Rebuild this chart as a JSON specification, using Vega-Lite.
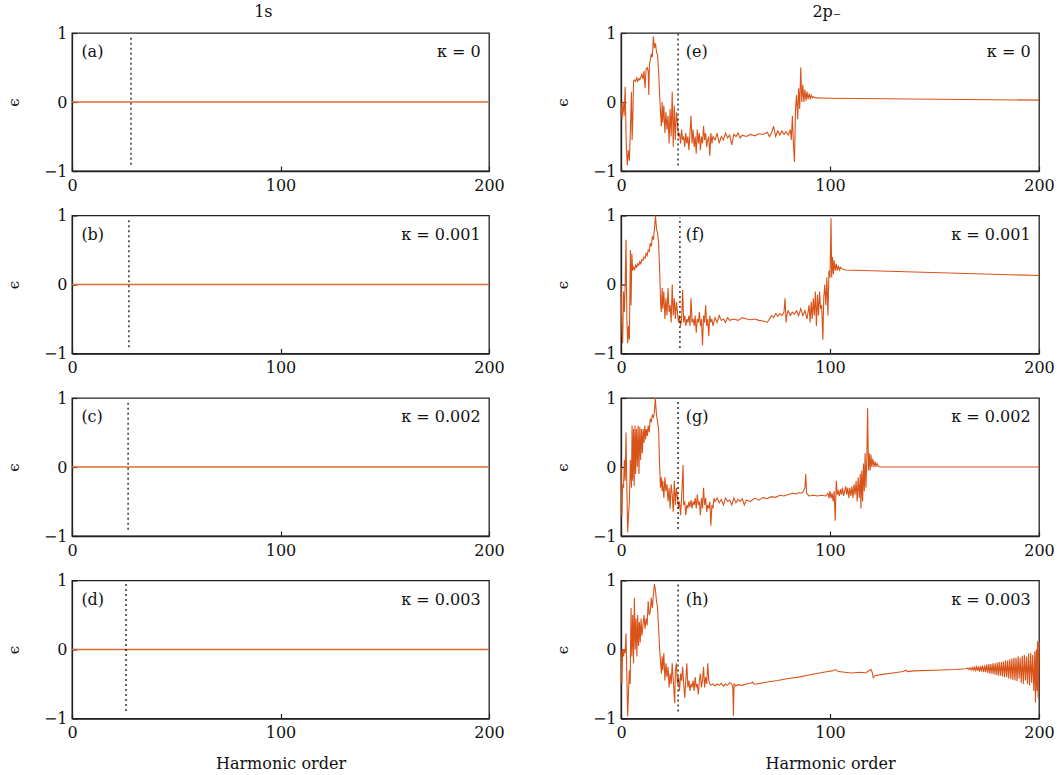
{
"$schema": "https://vega.github.io/schema/vega-lite/v6.json",
"padding": {"left": 5, "top": 4, "right": 2, "bottom": 2},
"background": "white",
"config": {
  "font": "DejaVu Serif",
  "view": {"stroke": "#222", "strokeWidth": 1.3},
  "axis": {"grid": false, "domainColor": "#222", "domainWidth": 1.3, "tickColor": "#222", "tickWidth": 1.2, "tickSize": -5, "labelFont": "DejaVu Serif", "labelFontSize": 16, "labelColor": "#111", "titleFont": "DejaVu Serif", "titleFontWeight": "normal", "titleColor": "#111", "tickCount": 2, "labelFlush": false},
  "axisX": {"labelPadding": 11, "titleFontSize": 16, "titlePadding": 15, "labelAngle": 0},
  "axisY": {"labelPadding": 10, "titleFontSize": 15, "titlePadding": 22, "labelAngle": 0},
  "title": {"font": "DejaVu Serif", "fontSize": 16, "fontWeight": "normal", "color": "#111"}
},
"datasets": {
  "flat": [{"x": 0, "y": 0}, {"x": 200, "y": 0}],
  "ann": [
    {"p": "a", "dx": 28.3, "y1": -0.91, "y2": 0.97, "lab": "(a)", "k": "κ = 0", "lx": 4.5, "kx": 196, "ly": 0.72},
    {"p": "b", "dx": 27.3, "y1": -0.91, "y2": 0.97, "lab": "(b)", "k": "κ = 0.001", "lx": 4.5, "kx": 196, "ly": 0.72},
    {"p": "c", "dx": 26.9, "y1": -0.91, "y2": 0.97, "lab": "(c)", "k": "κ = 0.002", "lx": 4.5, "kx": 196, "ly": 0.72},
    {"p": "d", "dx": 25.9, "y1": -0.89, "y2": 0.95, "lab": "(d)", "k": "κ = 0.003", "lx": 4.5, "kx": 196, "ly": 0.72},
    {"p": "e", "dx": 27.3, "y1": -0.92, "y2": 0.99, "lab": "(e)", "k": "κ = 0", "lx": 31, "kx": 196, "ly": 0.72},
    {"p": "f", "dx": 28.2, "y1": -0.92, "y2": 0.97, "lab": "(f)", "k": "κ = 0.001", "lx": 31, "kx": 196, "ly": 0.72},
    {"p": "g", "dx": 27.3, "y1": -0.9, "y2": 0.97, "lab": "(g)", "k": "κ = 0.002", "lx": 31, "kx": 196, "ly": 0.72},
    {"p": "h", "dx": 27.3, "y1": -0.9, "y2": 0.97, "lab": "(h)", "k": "κ = 0.003", "lx": 31, "kx": 196, "ly": 0.72}
  ],
  "e": [
    {"x":0,"y":0.0},{"x":0.5,"y":-0.25},{"x":1,"y":0.0},{"x":1.5,"y":-0.2},{"x":2,"y":0.22},{"x":2.5,"y":-0.6},{"x":3,"y":-0.92},{"x":3.5,"y":-0.7},{"x":4,"y":-0.85},{"x":4.5,"y":-0.4},{"x":5,"y":0.15},{"x":5.3,"y":-0.55},{"x":5.6,"y":-0.3},{"x":6,"y":0.3},{"x":6.5,"y":0.32},{"x":7,"y":0.3},{"x":7.5,"y":0.35},{"x":8,"y":0.3},{"x":8.5,"y":0.34},{"x":9,"y":0.32},{"x":9.5,"y":0.36},{"x":10,"y":0.4},{"x":10.5,"y":0.33},{"x":11,"y":0.45},{"x":11.5,"y":0.2},{"x":12,"y":0.48},{"x":12.5,"y":0.5},{"x":13,"y":0.45},{"x":13.3,"y":0.1},{"x":13.6,"y":0.55},{"x":14,"y":0.6},{"x":14.5,"y":0.7},{"x":15,"y":0.65},{"x":15.5,"y":0.95},{"x":16,"y":0.78},{"x":16.5,"y":0.85},{"x":17,"y":0.72},{"x":17.5,"y":0.68},{"x":18,"y":0.45},{"x":18.5,"y":0.1},{"x":19,"y":-0.2},{"x":19.3,"y":-0.35},{"x":19.7,"y":0.0},{"x":20,"y":-0.3},{"x":20.5,"y":-0.05},{"x":21,"y":-0.45},{"x":21.5,"y":-0.15},{"x":22,"y":-0.4},{"x":22.5,"y":-0.2},{"x":23,"y":-0.6},{"x":23.5,"y":-0.1},{"x":24,"y":-0.5},{"x":24.5,"y":0.15},{"x":25,"y":-0.65},{"x":25.5,"y":-0.05},{"x":26,"y":-0.55},{"x":26.5,"y":-0.15},{"x":27,"y":-0.3},{"x":27.5,"y":-0.5},{"x":28,"y":-0.45},{"x":28.5,"y":-0.6},{"x":29,"y":-0.4},{"x":29.5,"y":-0.55},{"x":30,"y":-0.5},{"x":30.5,"y":-0.65},{"x":31,"y":-0.45},{"x":31.5,"y":-0.6},{"x":32,"y":-0.5},{"x":32.5,"y":-0.7},{"x":33,"y":-0.45},{"x":33.5,"y":-0.2},{"x":34,"y":-0.6},{"x":34.5,"y":-0.4},{"x":35,"y":-0.65},{"x":35.5,"y":-0.5},{"x":36,"y":-0.75},{"x":36.5,"y":-0.4},{"x":37,"y":-0.6},{"x":37.5,"y":-0.45},{"x":38,"y":-0.7},{"x":38.5,"y":-0.5},{"x":39,"y":-0.6},{"x":39.5,"y":-0.35},{"x":40,"y":-0.55},{"x":40.5,"y":-0.45},{"x":41,"y":-0.65},{"x":41.5,"y":-0.55},{"x":42,"y":-0.5},{"x":42.5,"y":-0.78},{"x":43,"y":-0.45},{"x":43.5,"y":-0.6},{"x":44,"y":-0.5},{"x":45,"y":-0.55},{"x":46,"y":-0.45},{"x":47,"y":-0.6},{"x":48,"y":-0.5},{"x":49,"y":-0.55},{"x":50,"y":-0.45},{"x":51,"y":-0.52},{"x":52,"y":-0.48},{"x":53,"y":-0.62},{"x":54,"y":-0.47},{"x":55,"y":-0.5},{"x":56,"y":-0.45},{"x":57,"y":-0.52},{"x":58,"y":-0.48},{"x":60,"y":-0.5},{"x":62,"y":-0.47},{"x":64,"y":-0.49},{"x":66,"y":-0.46},{"x":68,"y":-0.47},{"x":70,"y":-0.44},{"x":71,"y":-0.5},{"x":72,"y":-0.45},{"x":73,"y":-0.35},{"x":74,"y":-0.5},{"x":75,"y":-0.42},{"x":76,"y":-0.48},{"x":77,"y":-0.42},{"x":78,"y":-0.47},{"x":79,"y":-0.43},{"x":80,"y":-0.48},{"x":81,"y":-0.4},{"x":81.5,"y":-0.55},{"x":82,"y":-0.2},{"x":82.5,"y":-0.6},{"x":83,"y":-0.87},{"x":83.5,"y":-0.1},{"x":84,"y":0.1},{"x":84.5,"y":-0.25},{"x":85,"y":0.2},{"x":85.5,"y":-0.1},{"x":86,"y":0.5},{"x":86.5,"y":0.0},{"x":87,"y":0.25},{"x":87.5,"y":0.0},{"x":88,"y":0.18},{"x":88.5,"y":0.02},{"x":89,"y":0.15},{"x":89.5,"y":0.04},{"x":90,"y":0.12},{"x":90.5,"y":0.05},{"x":91,"y":0.1},{"x":91.5,"y":0.06},{"x":92,"y":0.08},{"x":93,"y":0.06},{"x":100,"y":0.055},{"x":200,"y":0.027}
  ],
  "f": [
    {"x":0,"y":0.0},{"x":0.4,"y":-0.6},{"x":0.8,"y":-0.85},{"x":1.2,"y":-0.1},{"x":1.6,"y":-0.4},{"x":2,"y":0.0},{"x":2.4,"y":0.65},{"x":2.8,"y":-0.5},{"x":3.2,"y":-0.85},{"x":3.6,"y":-0.6},{"x":4,"y":-0.8},{"x":4.5,"y":0.5},{"x":4.8,"y":-0.3},{"x":5.2,"y":0.45},{"x":5.6,"y":0.2},{"x":6,"y":0.25},{"x":6.5,"y":0.22},{"x":7,"y":0.28},{"x":7.5,"y":0.25},{"x":8,"y":0.3},{"x":8.5,"y":0.28},{"x":9,"y":0.33},{"x":9.5,"y":0.3},{"x":10,"y":0.36},{"x":10.5,"y":0.35},{"x":11,"y":0.4},{"x":11.5,"y":0.38},{"x":12,"y":0.45},{"x":12.5,"y":0.42},{"x":13,"y":0.5},{"x":13.5,"y":0.48},{"x":14,"y":0.6},{"x":14.5,"y":0.55},{"x":15,"y":0.7},{"x":15.5,"y":0.65},{"x":16,"y":0.8},{"x":16.5,"y":1.0},{"x":17,"y":0.8},{"x":17.5,"y":0.75},{"x":18,"y":0.6},{"x":18.5,"y":0.2},{"x":19,"y":-0.3},{"x":19.3,"y":-0.4},{"x":19.7,"y":-0.05},{"x":20,"y":-0.35},{"x":20.5,"y":-0.1},{"x":21,"y":-0.5},{"x":21.5,"y":-0.2},{"x":22,"y":-0.45},{"x":22.5,"y":-0.05},{"x":23,"y":-0.4},{"x":23.5,"y":-0.3},{"x":24,"y":-0.55},{"x":24.5,"y":0.0},{"x":25,"y":-0.45},{"x":25.5,"y":-0.2},{"x":26,"y":-0.5},{"x":26.5,"y":-0.25},{"x":27,"y":-0.4},{"x":27.5,"y":-0.55},{"x":28,"y":-0.45},{"x":28.5,"y":-0.6},{"x":29,"y":-0.5},{"x":29.5,"y":-0.08},{"x":30,"y":-0.55},{"x":30.5,"y":-0.45},{"x":31,"y":-0.6},{"x":31.5,"y":-0.5},{"x":32,"y":-0.55},{"x":32.5,"y":-0.45},{"x":33,"y":-0.6},{"x":33.5,"y":-0.2},{"x":34,"y":-0.55},{"x":34.5,"y":-0.5},{"x":35,"y":-0.6},{"x":35.5,"y":-0.45},{"x":36,"y":-0.7},{"x":36.5,"y":-0.5},{"x":37,"y":-0.55},{"x":37.5,"y":-0.4},{"x":38,"y":-0.6},{"x":38.5,"y":-0.5},{"x":39,"y":-0.88},{"x":39.5,"y":-0.45},{"x":40,"y":-0.55},{"x":40.5,"y":-0.3},{"x":41,"y":-0.6},{"x":41.5,"y":-0.5},{"x":42,"y":-0.75},{"x":42.5,"y":-0.45},{"x":43,"y":-0.55},{"x":43.5,"y":-0.5},{"x":44,"y":-0.6},{"x":45,"y":-0.48},{"x":46,"y":-0.55},{"x":47,"y":-0.45},{"x":48,"y":-0.52},{"x":49,"y":-0.5},{"x":50,"y":-0.55},{"x":51,"y":-0.48},{"x":52,"y":-0.52},{"x":54,"y":-0.5},{"x":56,"y":-0.52},{"x":58,"y":-0.48},{"x":60,"y":-0.5},{"x":62,"y":-0.51},{"x":64,"y":-0.5},{"x":66,"y":-0.52},{"x":68,"y":-0.53},{"x":70,"y":-0.55},{"x":71,"y":-0.5},{"x":72,"y":-0.45},{"x":73,"y":-0.48},{"x":74,"y":-0.42},{"x":75,"y":-0.46},{"x":76,"y":-0.42},{"x":77,"y":-0.45},{"x":78,"y":-0.4},{"x":78.5,"y":-0.2},{"x":79,"y":-0.55},{"x":79.5,"y":-0.42},{"x":80,"y":-0.38},{"x":81,"y":-0.45},{"x":82,"y":-0.4},{"x":83,"y":-0.43},{"x":84,"y":-0.38},{"x":85,"y":-0.45},{"x":86,"y":-0.35},{"x":87,"y":-0.45},{"x":88,"y":-0.38},{"x":89,"y":-0.5},{"x":90,"y":-0.3},{"x":90.5,"y":-0.55},{"x":91,"y":-0.25},{"x":91.5,"y":-0.5},{"x":92,"y":-0.2},{"x":92.5,"y":-0.45},{"x":93,"y":-0.1},{"x":93.5,"y":-0.6},{"x":94,"y":-0.15},{"x":94.5,"y":-0.45},{"x":95,"y":-0.1},{"x":95.5,"y":-0.35},{"x":96,"y":-0.3},{"x":96.6,"y":-0.8},{"x":97,"y":-0.2},{"x":97.5,"y":0.0},{"x":98,"y":-0.3},{"x":98.5,"y":0.1},{"x":99,"y":-0.45},{"x":99.5,"y":0.2},{"x":100,"y":0.1},{"x":100.5,"y":0.96},{"x":100.8,"y":0.1},{"x":101.2,"y":0.4},{"x":101.6,"y":0.15},{"x":102,"y":0.35},{"x":102.5,"y":0.2},{"x":103,"y":0.3},{"x":103.5,"y":0.2},{"x":104,"y":0.27},{"x":104.5,"y":0.21},{"x":105,"y":0.25},{"x":106,"y":0.22},{"x":107.5,"y":0.21},{"x":200,"y":0.13}
  ],
  "g": [
    {"x":0,"y":0.0},{"x":0.4,"y":-0.72},{"x":0.8,"y":-0.25},{"x":1.2,"y":-0.3},{"x":1.6,"y":0.1},{"x":2,"y":-0.2},{"x":2.4,"y":0.5},{"x":2.8,"y":-0.3},{"x":3.2,"y":-0.95},{"x":3.6,"y":-0.7},{"x":4,"y":-0.5},{"x":4.5,"y":0.1},{"x":5,"y":-0.3},{"x":5.3,"y":0.6},{"x":5.6,"y":-0.2},{"x":6,"y":0.55},{"x":6.3,"y":-0.28},{"x":6.7,"y":0.6},{"x":7,"y":-0.1},{"x":7.4,"y":0.55},{"x":7.8,"y":0.0},{"x":8.2,"y":0.6},{"x":8.6,"y":-0.1},{"x":9,"y":0.58},{"x":9.4,"y":0.1},{"x":9.8,"y":0.55},{"x":10.2,"y":0.2},{"x":10.6,"y":0.55},{"x":11,"y":0.35},{"x":11.4,"y":0.6},{"x":11.8,"y":0.4},{"x":12.2,"y":0.55},{"x":12.6,"y":0.45},{"x":13,"y":0.6},{"x":13.5,"y":0.5},{"x":14,"y":0.7},{"x":14.5,"y":0.65},{"x":15,"y":0.75},{"x":15.5,"y":0.72},{"x":16,"y":0.8},{"x":16.4,"y":1.0},{"x":17,"y":0.75},{"x":17.5,"y":0.65},{"x":18,"y":0.55},{"x":18.5,"y":0.0},{"x":18.9,"y":-0.3},{"x":19.3,"y":-0.15},{"x":19.7,"y":-0.35},{"x":20,"y":-0.2},{"x":20.5,"y":-0.45},{"x":21,"y":-0.15},{"x":21.5,"y":-0.35},{"x":22,"y":-0.25},{"x":22.5,"y":-0.5},{"x":23,"y":-0.3},{"x":23.5,"y":-0.6},{"x":24,"y":-0.25},{"x":24.5,"y":-0.4},{"x":25,"y":-0.65},{"x":25.5,"y":-0.2},{"x":26,"y":-0.55},{"x":26.5,"y":-0.3},{"x":27,"y":-0.45},{"x":27.5,"y":-0.6},{"x":28,"y":-0.5},{"x":28.5,"y":-0.7},{"x":29,"y":-0.45},{"x":29.7,"y":0.03},{"x":30,"y":-0.55},{"x":30.5,"y":-0.5},{"x":31,"y":-0.7},{"x":31.5,"y":-0.55},{"x":32,"y":-0.6},{"x":32.5,"y":-0.5},{"x":33,"y":-0.58},{"x":33.5,"y":-0.48},{"x":34,"y":-0.6},{"x":34.5,"y":-0.5},{"x":35,"y":-0.55},{"x":35.5,"y":-0.45},{"x":36,"y":-0.6},{"x":36.5,"y":-0.4},{"x":37,"y":-0.55},{"x":37.5,"y":-0.5},{"x":38,"y":-0.7},{"x":38.5,"y":-0.45},{"x":39,"y":-0.6},{"x":39.5,"y":-0.3},{"x":40,"y":-0.55},{"x":40.5,"y":-0.45},{"x":41,"y":-0.65},{"x":41.5,"y":-0.55},{"x":42,"y":-0.6},{"x":42.5,"y":-0.5},{"x":43,"y":-0.85},{"x":43.5,"y":-0.55},{"x":44,"y":-0.6},{"x":44.5,"y":-0.45},{"x":45,"y":-0.5},{"x":46,"y":-0.45},{"x":47,"y":-0.52},{"x":48,"y":-0.47},{"x":49,"y":-0.55},{"x":50,"y":-0.45},{"x":51,"y":-0.5},{"x":52,"y":-0.48},{"x":53,"y":-0.55},{"x":54,"y":-0.45},{"x":55,"y":-0.52},{"x":56,"y":-0.47},{"x":57,"y":-0.5},{"x":58,"y":-0.46},{"x":59,"y":-0.55},{"x":60,"y":-0.48},{"x":62,"y":-0.5},{"x":64,"y":-0.45},{"x":66,"y":-0.48},{"x":68,"y":-0.44},{"x":70,"y":-0.46},{"x":72,"y":-0.43},{"x":74,"y":-0.44},{"x":76,"y":-0.41},{"x":78,"y":-0.42},{"x":80,"y":-0.4},{"x":82,"y":-0.38},{"x":84,"y":-0.39},{"x":85,"y":-0.37},{"x":86,"y":-0.38},{"x":87,"y":-0.37},{"x":88,"y":-0.3},{"x":88.4,"y":-0.1},{"x":88.8,"y":-0.38},{"x":90,"y":-0.42},{"x":92,"y":-0.41},{"x":94,"y":-0.42},{"x":96,"y":-0.41},{"x":98,"y":-0.42},{"x":99,"y":-0.38},{"x":99.5,"y":-0.45},{"x":100,"y":-0.35},{"x":100.5,"y":-0.45},{"x":101,"y":-0.38},{"x":101.5,"y":-0.5},{"x":102,"y":-0.35},{"x":102.5,"y":-0.78},{"x":103,"y":-0.2},{"x":103.5,"y":-0.4},{"x":104,"y":-0.35},{"x":104.5,"y":-0.42},{"x":105,"y":-0.32},{"x":105.5,"y":-0.4},{"x":106,"y":-0.3},{"x":106.5,"y":-0.42},{"x":107,"y":-0.35},{"x":107.5,"y":-0.28},{"x":108,"y":-0.4},{"x":108.5,"y":-0.3},{"x":109,"y":-0.45},{"x":109.5,"y":-0.3},{"x":110,"y":-0.42},{"x":110.5,"y":-0.28},{"x":111,"y":-0.45},{"x":111.5,"y":-0.25},{"x":112,"y":-0.4},{"x":112.5,"y":-0.2},{"x":113,"y":-0.5},{"x":113.5,"y":-0.15},{"x":114,"y":-0.45},{"x":114.5,"y":-0.1},{"x":114.8,"y":-0.6},{"x":115.2,"y":-0.05},{"x":115.6,"y":-0.5},{"x":116,"y":0.05},{"x":116.4,"y":-0.35},{"x":116.8,"y":0.2},{"x":117.2,"y":-0.3},{"x":117.6,"y":0.1},{"x":118,"y":0.85},{"x":118.4,"y":-0.05},{"x":118.8,"y":0.2},{"x":119.2,"y":-0.05},{"x":119.6,"y":0.18},{"x":120,"y":0.0},{"x":120.5,"y":0.12},{"x":121,"y":0.0},{"x":121.5,"y":0.08},{"x":122,"y":0.01},{"x":122.5,"y":0.05},{"x":123,"y":0.01},{"x":124,"y":0.0},{"x":200,"y":0.0}
  ],
  "h": [
    {"x":0,"y":0.0},{"x":0.4,"y":-0.5},{"x":0.8,"y":0.0},{"x":1.2,"y":-0.1},{"x":1.6,"y":0.0},{"x":2,"y":-0.05},{"x":2.4,"y":0.23},{"x":2.8,"y":-0.4},{"x":3.2,"y":-0.97},{"x":3.6,"y":-0.6},{"x":4,"y":-0.3},{"x":4.4,"y":-0.5},{"x":4.8,"y":0.6},{"x":5.2,"y":-0.1},{"x":5.6,"y":0.5},{"x":6,"y":-0.2},{"x":6.4,"y":0.75},{"x":6.8,"y":0.0},{"x":7.2,"y":0.45},{"x":7.6,"y":-0.1},{"x":8,"y":0.5},{"x":8.4,"y":0.05},{"x":8.8,"y":0.4},{"x":9.2,"y":0.1},{"x":9.6,"y":0.45},{"x":10,"y":0.2},{"x":10.5,"y":0.35},{"x":11,"y":0.5},{"x":11.5,"y":0.3},{"x":12,"y":0.45},{"x":12.5,"y":0.35},{"x":13,"y":0.7},{"x":13.5,"y":0.5},{"x":14,"y":0.55},{"x":14.5,"y":0.75},{"x":15,"y":0.6},{"x":15.5,"y":0.8},{"x":16,"y":0.95},{"x":16.5,"y":0.85},{"x":17,"y":0.7},{"x":17.5,"y":0.6},{"x":18,"y":0.3},{"x":18.5,"y":0.0},{"x":19.3,"y":-0.35},{"x":19.7,"y":-0.1},{"x":20,"y":-0.3},{"x":20.5,"y":-0.05},{"x":21,"y":-0.45},{"x":21.5,"y":-0.2},{"x":22,"y":-0.4},{"x":22.5,"y":-0.25},{"x":23,"y":-0.55},{"x":23.5,"y":-0.35},{"x":24,"y":-0.5},{"x":24.5,"y":-0.2},{"x":25,"y":-0.45},{"x":25.7,"y":-0.78},{"x":26,"y":-0.3},{"x":26.5,"y":-0.2},{"x":27,"y":-0.5},{"x":27.5,"y":-0.4},{"x":28,"y":-0.6},{"x":28.5,"y":-0.35},{"x":29,"y":-0.45},{"x":29.5,"y":-0.25},{"x":30,"y":-0.5},{"x":30.5,"y":-0.7},{"x":31,"y":-0.45},{"x":31.5,"y":-0.2},{"x":32,"y":-0.55},{"x":32.5,"y":-0.45},{"x":33,"y":-0.6},{"x":33.5,"y":-0.5},{"x":34,"y":-0.55},{"x":34.5,"y":-0.45},{"x":35,"y":-0.6},{"x":35.5,"y":-0.4},{"x":36,"y":-0.55},{"x":36.5,"y":-0.5},{"x":37,"y":-0.65},{"x":37.5,"y":-0.45},{"x":38,"y":-0.35},{"x":38.5,"y":-0.55},{"x":39,"y":-0.45},{"x":39.5,"y":-0.25},{"x":40,"y":-0.55},{"x":40.5,"y":-0.4},{"x":41,"y":-0.5},{"x":41.5,"y":-0.2},{"x":42,"y":-0.45},{"x":42.5,"y":-0.5},{"x":43,"y":-0.52},{"x":44,"y":-0.5},{"x":45,"y":-0.53},{"x":46,"y":-0.5},{"x":47,"y":-0.52},{"x":48,"y":-0.49},{"x":49,"y":-0.53},{"x":50,"y":-0.5},{"x":51,"y":-0.52},{"x":52,"y":-0.48},{"x":53,"y":-0.5},{"x":53.5,"y":-0.55},{"x":53.8,"y":-0.96},{"x":54.1,"y":-0.5},{"x":55,"y":-0.53},{"x":56,"y":-0.51},{"x":58,"y":-0.52},{"x":60,"y":-0.5},{"x":62,"y":-0.49},{"x":63,"y":-0.47},{"x":63.5,"y":-0.5},{"x":65,"y":-0.5},{"x":70,"y":-0.47},{"x":75,"y":-0.45},{"x":80,"y":-0.42},{"x":85,"y":-0.4},{"x":90,"y":-0.37},{"x":95,"y":-0.34},{"x":99,"y":-0.32},{"x":101,"y":-0.31},{"x":102.7,"y":-0.29},{"x":104,"y":-0.32},{"x":107,"y":-0.33},{"x":110,"y":-0.34},{"x":115,"y":-0.33},{"x":117,"y":-0.34},{"x":119.6,"y":-0.29},{"x":120.2,"y":-0.33},{"x":120.7,"y":-0.41},{"x":121.5,"y":-0.38},{"x":125,"y":-0.36},{"x":130,"y":-0.34},{"x":135,"y":-0.32},{"x":136.4,"y":-0.3},{"x":137,"y":-0.32},{"x":140,"y":-0.31},{"x":150,"y":-0.3},{"x":160,"y":-0.29},{"x":165,"y":-0.28},{"x":166,"y":-0.27},{"x":166.5,"y":-0.29},{"x":167,"y":-0.265},{"x":167.5,"y":-0.295},{"x":168,"y":-0.26},{"x":168.5,"y":-0.3},{"x":169,"y":-0.255},{"x":169.5,"y":-0.305},{"x":170,"y":-0.25},{"x":170.5,"y":-0.31},{"x":171,"y":-0.245},{"x":171.5,"y":-0.32},{"x":172,"y":-0.24},{"x":172.5,"y":-0.32},{"x":173,"y":-0.235},{"x":173.5,"y":-0.33},{"x":174,"y":-0.23},{"x":174.5,"y":-0.33},{"x":175,"y":-0.22},{"x":175.5,"y":-0.34},{"x":176,"y":-0.21},{"x":176.5,"y":-0.35},{"x":177,"y":-0.21},{"x":177.5,"y":-0.35},{"x":178,"y":-0.2},{"x":178.5,"y":-0.36},{"x":179,"y":-0.2},{"x":179.5,"y":-0.37},{"x":180,"y":-0.19},{"x":180.5,"y":-0.38},{"x":181,"y":-0.18},{"x":181.5,"y":-0.38},{"x":182,"y":-0.18},{"x":182.5,"y":-0.39},{"x":183,"y":-0.17},{"x":183.5,"y":-0.4},{"x":184,"y":-0.16},{"x":184.5,"y":-0.4},{"x":185,"y":-0.16},{"x":185.5,"y":-0.42},{"x":186,"y":-0.14},{"x":186.5,"y":-0.43},{"x":187,"y":-0.13},{"x":187.5,"y":-0.44},{"x":188,"y":-0.12},{"x":188.5,"y":-0.45},{"x":189,"y":-0.12},{"x":189.5,"y":-0.46},{"x":190,"y":-0.1},{"x":190.5,"y":-0.42},{"x":191,"y":-0.12},{"x":191.5,"y":-0.48},{"x":192,"y":-0.09},{"x":192.5,"y":-0.5},{"x":193,"y":-0.08},{"x":193.5,"y":-0.45},{"x":194,"y":-0.1},{"x":194.5,"y":-0.5},{"x":195,"y":-0.06},{"x":195.5,"y":-0.52},{"x":196,"y":-0.05},{"x":196.5,"y":-0.48},{"x":197,"y":-0.08},{"x":197.5,"y":-0.6},{"x":198,"y":-0.03},{"x":198.3,"y":-0.77},{"x":198.7,"y":0.0},{"x":199,"y":-0.6},{"x":199.3,"y":0.12},{"x":199.6,"y":-0.7},{"x":200,"y":0.1}
  ]
},
"hconcat": [
  {
    "title": {"text": "1s", "anchor": "middle", "dx": 8},
    "spacing": 12.5,
    "vconcat": [
      {"width": 417, "height": 138, "layer": [
        {"data": {"name": "flat"}, "mark": {"type": "line", "color": "#E06A35", "strokeWidth": 1.4}, "encoding": {"x": {"field": "x", "type": "quantitative", "scale": {"domain": [0, 200], "nice": false}, "title": null}, "y": {"field": "y", "type": "quantitative", "scale": {"domain": [-1, 1], "nice": false}, "title": "ϵ"}}},
        {"data": {"name": "ann"}, "transform": [{"filter": "datum.p == 'a'"}], "mark": {"type": "rule", "color": "black", "strokeWidth": 1.2, "strokeDash": [2, 3]}, "encoding": {"x": {"field": "dx", "type": "quantitative"}, "y": {"field": "y1", "type": "quantitative"}, "y2": {"field": "y2"}}},
        {"data": {"name": "ann"}, "transform": [{"filter": "datum.p == 'a'"}], "mark": {"type": "text", "align": "left", "baseline": "middle", "fontSize": 16, "color": "#111"}, "encoding": {"x": {"field": "lx", "type": "quantitative"}, "y": {"field": "ly", "type": "quantitative"}, "text": {"field": "lab"}}},
        {"data": {"name": "ann"}, "transform": [{"filter": "datum.p == 'a'"}], "mark": {"type": "text", "align": "right", "baseline": "middle", "fontSize": 16, "color": "#111"}, "encoding": {"x": {"field": "kx", "type": "quantitative"}, "y": {"field": "ly", "type": "quantitative"}, "text": {"field": "k"}}}
      ]},
      {"width": 417, "height": 138, "layer": [
        {"data": {"name": "flat"}, "mark": {"type": "line", "color": "#E06A35", "strokeWidth": 1.4}, "encoding": {"x": {"field": "x", "type": "quantitative", "scale": {"domain": [0, 200], "nice": false}, "title": null}, "y": {"field": "y", "type": "quantitative", "scale": {"domain": [-1, 1], "nice": false}, "title": "ϵ"}}},
        {"data": {"name": "ann"}, "transform": [{"filter": "datum.p == 'b'"}], "mark": {"type": "rule", "color": "black", "strokeWidth": 1.2, "strokeDash": [2, 3]}, "encoding": {"x": {"field": "dx", "type": "quantitative"}, "y": {"field": "y1", "type": "quantitative"}, "y2": {"field": "y2"}}},
        {"data": {"name": "ann"}, "transform": [{"filter": "datum.p == 'b'"}], "mark": {"type": "text", "align": "left", "baseline": "middle", "fontSize": 16, "color": "#111"}, "encoding": {"x": {"field": "lx", "type": "quantitative"}, "y": {"field": "ly", "type": "quantitative"}, "text": {"field": "lab"}}},
        {"data": {"name": "ann"}, "transform": [{"filter": "datum.p == 'b'"}], "mark": {"type": "text", "align": "right", "baseline": "middle", "fontSize": 16, "color": "#111"}, "encoding": {"x": {"field": "kx", "type": "quantitative"}, "y": {"field": "ly", "type": "quantitative"}, "text": {"field": "k"}}}
      ]},
      {"width": 417, "height": 138, "layer": [
        {"data": {"name": "flat"}, "mark": {"type": "line", "color": "#E06A35", "strokeWidth": 1.4}, "encoding": {"x": {"field": "x", "type": "quantitative", "scale": {"domain": [0, 200], "nice": false}, "title": null}, "y": {"field": "y", "type": "quantitative", "scale": {"domain": [-1, 1], "nice": false}, "title": "ϵ"}}},
        {"data": {"name": "ann"}, "transform": [{"filter": "datum.p == 'c'"}], "mark": {"type": "rule", "color": "black", "strokeWidth": 1.2, "strokeDash": [2, 3]}, "encoding": {"x": {"field": "dx", "type": "quantitative"}, "y": {"field": "y1", "type": "quantitative"}, "y2": {"field": "y2"}}},
        {"data": {"name": "ann"}, "transform": [{"filter": "datum.p == 'c'"}], "mark": {"type": "text", "align": "left", "baseline": "middle", "fontSize": 16, "color": "#111"}, "encoding": {"x": {"field": "lx", "type": "quantitative"}, "y": {"field": "ly", "type": "quantitative"}, "text": {"field": "lab"}}},
        {"data": {"name": "ann"}, "transform": [{"filter": "datum.p == 'c'"}], "mark": {"type": "text", "align": "right", "baseline": "middle", "fontSize": 16, "color": "#111"}, "encoding": {"x": {"field": "kx", "type": "quantitative"}, "y": {"field": "ly", "type": "quantitative"}, "text": {"field": "k"}}}
      ]},
      {"width": 417, "height": 138, "layer": [
        {"data": {"name": "flat"}, "mark": {"type": "line", "color": "#E06A35", "strokeWidth": 1.4}, "encoding": {"x": {"field": "x", "type": "quantitative", "scale": {"domain": [0, 200], "nice": false}, "title": "Harmonic order"}, "y": {"field": "y", "type": "quantitative", "scale": {"domain": [-1, 1], "nice": false}, "title": "ϵ"}}},
        {"data": {"name": "ann"}, "transform": [{"filter": "datum.p == 'd'"}], "mark": {"type": "rule", "color": "black", "strokeWidth": 1.2, "strokeDash": [2, 3]}, "encoding": {"x": {"field": "dx", "type": "quantitative"}, "y": {"field": "y1", "type": "quantitative"}, "y2": {"field": "y2"}}},
        {"data": {"name": "ann"}, "transform": [{"filter": "datum.p == 'd'"}], "mark": {"type": "text", "align": "left", "baseline": "middle", "fontSize": 16, "color": "#111"}, "encoding": {"x": {"field": "lx", "type": "quantitative"}, "y": {"field": "ly", "type": "quantitative"}, "text": {"field": "lab"}}},
        {"data": {"name": "ann"}, "transform": [{"filter": "datum.p == 'd'"}], "mark": {"type": "text", "align": "right", "baseline": "middle", "fontSize": 16, "color": "#111"}, "encoding": {"x": {"field": "kx", "type": "quantitative"}, "y": {"field": "ly", "type": "quantitative"}, "text": {"field": "k"}}}
      ]}
    ]
  },
  {
    "title": {"text": "2p₋", "anchor": "middle", "dx": 22},
    "spacing": 12.5,
    "vconcat": [
      {"width": 418, "height": 138, "layer": [
        {"data": {"name": "e"}, "mark": {"type": "line", "color": "#D95319", "strokeWidth": 1.1}, "encoding": {"x": {"field": "x", "type": "quantitative", "scale": {"domain": [0, 200], "nice": false}, "title": null}, "y": {"field": "y", "type": "quantitative", "scale": {"domain": [-1, 1], "nice": false}, "title": "ϵ"}}},
        {"data": {"name": "ann"}, "transform": [{"filter": "datum.p == 'e'"}], "mark": {"type": "rule", "color": "black", "strokeWidth": 1.2, "strokeDash": [2, 3]}, "encoding": {"x": {"field": "dx", "type": "quantitative"}, "y": {"field": "y1", "type": "quantitative"}, "y2": {"field": "y2"}}},
        {"data": {"name": "ann"}, "transform": [{"filter": "datum.p == 'e'"}], "mark": {"type": "text", "align": "left", "baseline": "middle", "fontSize": 16, "color": "#111"}, "encoding": {"x": {"field": "lx", "type": "quantitative"}, "y": {"field": "ly", "type": "quantitative"}, "text": {"field": "lab"}}},
        {"data": {"name": "ann"}, "transform": [{"filter": "datum.p == 'e'"}], "mark": {"type": "text", "align": "right", "baseline": "middle", "fontSize": 16, "color": "#111"}, "encoding": {"x": {"field": "kx", "type": "quantitative"}, "y": {"field": "ly", "type": "quantitative"}, "text": {"field": "k"}}}
      ]},
      {"width": 418, "height": 138, "layer": [
        {"data": {"name": "f"}, "mark": {"type": "line", "color": "#D95319", "strokeWidth": 1.1}, "encoding": {"x": {"field": "x", "type": "quantitative", "scale": {"domain": [0, 200], "nice": false}, "title": null}, "y": {"field": "y", "type": "quantitative", "scale": {"domain": [-1, 1], "nice": false}, "title": "ϵ"}}},
        {"data": {"name": "ann"}, "transform": [{"filter": "datum.p == 'f'"}], "mark": {"type": "rule", "color": "black", "strokeWidth": 1.2, "strokeDash": [2, 3]}, "encoding": {"x": {"field": "dx", "type": "quantitative"}, "y": {"field": "y1", "type": "quantitative"}, "y2": {"field": "y2"}}},
        {"data": {"name": "ann"}, "transform": [{"filter": "datum.p == 'f'"}], "mark": {"type": "text", "align": "left", "baseline": "middle", "fontSize": 16, "color": "#111"}, "encoding": {"x": {"field": "lx", "type": "quantitative"}, "y": {"field": "ly", "type": "quantitative"}, "text": {"field": "lab"}}},
        {"data": {"name": "ann"}, "transform": [{"filter": "datum.p == 'f'"}], "mark": {"type": "text", "align": "right", "baseline": "middle", "fontSize": 16, "color": "#111"}, "encoding": {"x": {"field": "kx", "type": "quantitative"}, "y": {"field": "ly", "type": "quantitative"}, "text": {"field": "k"}}}
      ]},
      {"width": 418, "height": 138, "layer": [
        {"data": {"name": "g"}, "mark": {"type": "line", "color": "#D95319", "strokeWidth": 1.1}, "encoding": {"x": {"field": "x", "type": "quantitative", "scale": {"domain": [0, 200], "nice": false}, "title": null}, "y": {"field": "y", "type": "quantitative", "scale": {"domain": [-1, 1], "nice": false}, "title": "ϵ"}}},
        {"data": {"name": "ann"}, "transform": [{"filter": "datum.p == 'g'"}], "mark": {"type": "rule", "color": "black", "strokeWidth": 1.2, "strokeDash": [2, 3]}, "encoding": {"x": {"field": "dx", "type": "quantitative"}, "y": {"field": "y1", "type": "quantitative"}, "y2": {"field": "y2"}}},
        {"data": {"name": "ann"}, "transform": [{"filter": "datum.p == 'g'"}], "mark": {"type": "text", "align": "left", "baseline": "middle", "fontSize": 16, "color": "#111"}, "encoding": {"x": {"field": "lx", "type": "quantitative"}, "y": {"field": "ly", "type": "quantitative"}, "text": {"field": "lab"}}},
        {"data": {"name": "ann"}, "transform": [{"filter": "datum.p == 'g'"}], "mark": {"type": "text", "align": "right", "baseline": "middle", "fontSize": 16, "color": "#111"}, "encoding": {"x": {"field": "kx", "type": "quantitative"}, "y": {"field": "ly", "type": "quantitative"}, "text": {"field": "k"}}}
      ]},
      {"width": 418, "height": 138, "layer": [
        {"data": {"name": "h"}, "mark": {"type": "line", "color": "#D95319", "strokeWidth": 1.1}, "encoding": {"x": {"field": "x", "type": "quantitative", "scale": {"domain": [0, 200], "nice": false}, "title": "Harmonic order"}, "y": {"field": "y", "type": "quantitative", "scale": {"domain": [-1, 1], "nice": false}, "title": "ϵ"}}},
        {"data": {"name": "ann"}, "transform": [{"filter": "datum.p == 'h'"}], "mark": {"type": "rule", "color": "black", "strokeWidth": 1.2, "strokeDash": [2, 3]}, "encoding": {"x": {"field": "dx", "type": "quantitative"}, "y": {"field": "y1", "type": "quantitative"}, "y2": {"field": "y2"}}},
        {"data": {"name": "ann"}, "transform": [{"filter": "datum.p == 'h'"}], "mark": {"type": "text", "align": "left", "baseline": "middle", "fontSize": 16, "color": "#111"}, "encoding": {"x": {"field": "lx", "type": "quantitative"}, "y": {"field": "ly", "type": "quantitative"}, "text": {"field": "lab"}}},
        {"data": {"name": "ann"}, "transform": [{"filter": "datum.p == 'h'"}], "mark": {"type": "text", "align": "right", "baseline": "middle", "fontSize": 16, "color": "#111"}, "encoding": {"x": {"field": "kx", "type": "quantitative"}, "y": {"field": "ly", "type": "quantitative"}, "text": {"field": "k"}}}
      ]}
    ]
  }
],
"spacing": 49
}
